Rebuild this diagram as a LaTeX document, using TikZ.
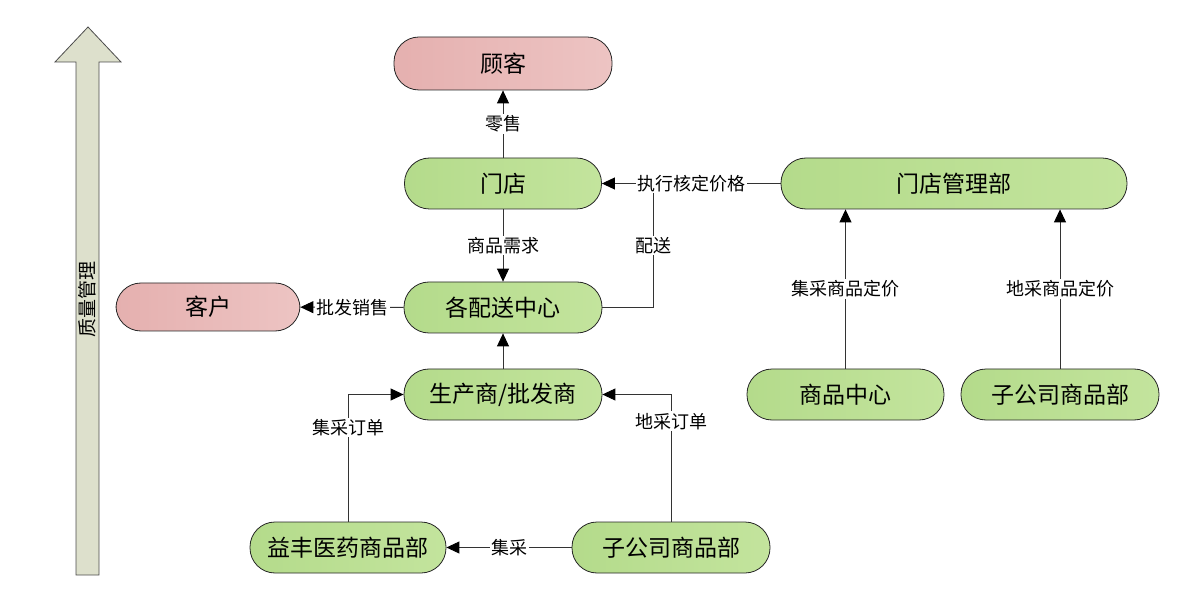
\documentclass[tikz,border=0pt]{standalone}
\usepackage{fontspec}
\setmainfont{Noto Sans CJK SC}
\usetikzlibrary{arrows.meta}
\definecolor{pinkA}{HTML}{E5B0AF}
\definecolor{pinkB}{HTML}{EDC4C3}
\definecolor{greenA}{HTML}{B4DB8B}
\definecolor{greenB}{HTML}{C3E49D}
\definecolor{arrowfill}{HTML}{DDE0CC}
\definecolor{linegray}{HTML}{333333}
\begin{document}
\begin{tikzpicture}[x=1pt,y=-1pt,
  pill/.style={draw=black!85, line width=0.8pt, rounded corners=25pt, minimum height=51pt, inner sep=0pt, font=\fontsize{23}{27}\selectfont},
  greenbox/.style={pill, left color=greenA, right color=greenB},
  pinkbox/.style={pill, left color=pinkA, right color=pinkB},
  lab/.style={fill=white, inner sep=1.5pt, font=\fontsize{18}{21}\selectfont},
  plain/.style={draw=linegray, line width=0.9pt},
  conn/.style={plain, -{Triangle[length=13pt,width=12pt,color=black]}}
]
\useasboundingbox (0,0) rectangle (1191,601);

% big quality arrow
\draw[fill=arrowfill, draw=black!70, line width=0.8pt]
  (76,575) -- (76,62) -- (55,62) -- (88,27) -- (121,62) -- (99,62) -- (99,575) -- cycle;
\node[rotate=90, font=\fontsize{19}{22}\selectfont] (zlgl) at (87.5,300) {质量管理};

% nodes
\node[pinkbox, minimum width=218pt, minimum height=53pt] (guke) at (503,63.5) {顾客};
\node[greenbox, minimum width=197pt] (mendian) at (503,183.5) {门店};
\node[greenbox, minimum width=346pt] (mdglb) at (954,183.5) {门店管理部};
\node[greenbox, minimum width=198pt] (peisong) at (503,307.5) {各配送中心};
\node[pinkbox, minimum width=184pt, minimum height=48pt] (kehu) at (208,307) {客户};
\node[greenbox, minimum width=198pt] (scs) at (503,394.5) {生产商/批发商};
\node[greenbox, minimum width=197pt] (spzx) at (845.5,394.5) {商品中心};
\node[greenbox, minimum width=198pt] (zgsA) at (1060,394.5) {子公司商品部};
\node[greenbox, minimum width=196pt] (yf) at (348,547.5) {益丰医药商品部};
\node[greenbox, minimum width=198pt] (zgsB) at (671,547.5) {子公司商品部};

% connectors
\draw[conn] (mendian) -- node[lab]{零售} (guke);
\draw[conn] (mendian) -- node[lab]{商品需求} (peisong);
\draw[conn] (scs) -- (peisong);
\draw[conn] (peisong) -- node[lab]{批发销售} (kehu);
\coordinate (join) at (653,183.5);
\draw[plain] (peisong.east) -| node[lab, pos=0.75]{配送} (join);
\draw[conn] (mdglb) -- node[lab]{执行核定价格} (mendian);
\draw[conn] (spzx) -- node[lab]{集采商品定价} (spzx |- mdglb.south);
\draw[conn] (zgsA) -- node[lab]{地采商品定价} (zgsA |- mdglb.south);
\draw[conn] (yf.north) |- node[lab, pos=0.37]{集采订单} (scs.west);
\draw[conn] (zgsB.north) |- node[lab, pos=0.395]{地采订单} (scs.east);
\draw[conn] (zgsB) -- node[lab]{集采} (yf);
\end{tikzpicture}
\end{document}
